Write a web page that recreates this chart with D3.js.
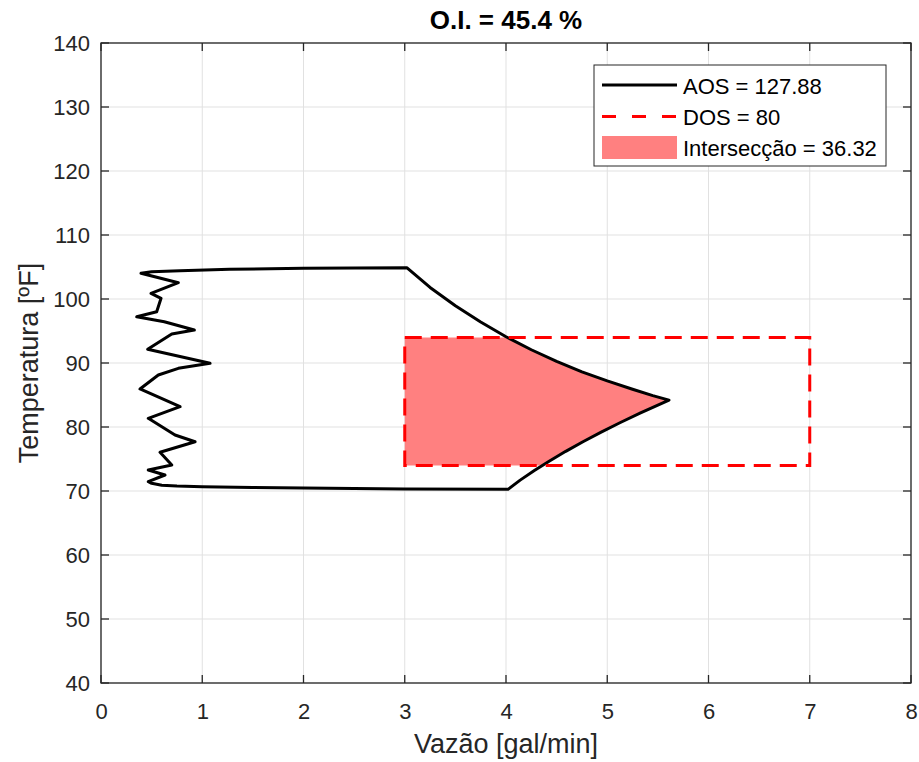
<!DOCTYPE html>
<html>
<head>
<meta charset="utf-8">
<script src="https://cdn.jsdelivr.net/npm/d3@7"></script>
<style>
  html, body { margin: 0; padding: 0; background: #fff; }
  svg { display: block; font-family: "Liberation Sans", Arial, sans-serif; }
</style>
</head>
<body>
<div id="chart"></div>
<script>
// ---------- DATA ----------
const title = "O.I. = 45.4 %";
const xLabel = "Vazão [gal/min]";
const yLabel = "Temperatura [ºF]";
const xTicks = [0, 1, 2, 3, 4, 5, 6, 7, 8];
const yTicks = [40, 50, 60, 70, 80, 90, 100, 110, 120, 130, 140];

// AOS polygon (achievable operating space) - traced boundary
const aosX = [3.02, 3.25, 3.5, 3.75, 4.0, 4.25, 4.5, 4.75, 5.0, 5.25, 5.45, 5.61,
              5.467, 5.329, 5.13, 4.94, 4.76, 4.59, 4.43, 4.28, 4.14, 4.02,
              3.0, 2.0, 1.5, 1.0, 0.75, 0.6, 0.5,
              0.467, 0.632, 0.467, 0.699, 0.583, 0.929, 0.731, 0.467, 0.781, 0.385,
              0.566, 0.764, 1.077, 0.461, 0.699, 0.922, 0.625, 0.353, 0.550, 0.593,
              0.494, 0.764, 0.395,
              0.5, 0.78, 1.27, 2.0, 3.02];
const aosY = [104.9, 101.8, 98.94, 96.4, 94.1, 92.07, 90.25, 88.6, 87.2, 85.9, 84.9, 84.2,
              83.2, 82.2, 80.7, 79.2, 77.7, 76.2, 74.7, 73.2, 71.7, 70.26,
              70.33, 70.46, 70.55, 70.67, 70.78, 70.9, 71.2,
              71.45, 72.5, 73.28, 74.06, 76.05, 77.70, 78.75, 81.36, 83.17, 85.94,
              88.13, 89.17, 89.95, 92.14, 94.53, 95.16, 96.45, 97.23, 98.02, 100.11,
              100.89, 102.55, 104.02,
              104.25, 104.42, 104.65, 104.8, 104.9];

// DOS rectangle (desired operating space)
const dosX = [3, 7];
const dosY = [74, 94];

const legendLabels = ["AOS = 127.88", "DOS = 80", "Intersecção = 36.32"];

// ---------- CHART ----------
const W = 919, H = 762;
const svg = d3.select("#chart").append("svg").attr("width", W).attr("height", H);

const x = d3.scaleLinear().domain([0, 8]).range([101, 911]);
const y = d3.scaleLinear().domain([40, 140]).range([683, 43]);

const axisColor = "#262626";
const gridColor = "#e1e1e1";
const FONT = "'Liberation Sans', Arial, sans-serif";

// grid
const grid = svg.append("g");
grid.selectAll("line.gx").data(xTicks).join("line")
  .attr("x1", d => x(d)).attr("x2", d => x(d))
  .attr("y1", y(40)).attr("y2", y(140))
  .attr("stroke", gridColor).attr("stroke-width", 1);
grid.selectAll("line.gy").data(yTicks).join("line")
  .attr("y1", d => y(d)).attr("y2", d => y(d))
  .attr("x1", x(0)).attr("x2", x(8))
  .attr("stroke", gridColor).attr("stroke-width", 1);

// clip for intersection
const defs = svg.append("defs");
defs.append("clipPath").attr("id", "dosClip").append("rect")
  .attr("x", x(dosX[0])).attr("y", y(dosY[1]))
  .attr("width", x(dosX[1]) - x(dosX[0]))
  .attr("height", y(dosY[0]) - y(dosY[1]));

const pts = aosX.map((v, i) => [x(v), y(aosY[i])]);
const line = d3.line().curve(d3.curveLinear);

// intersection fill
svg.append("path")
  .attr("d", line(pts) + "Z")
  .attr("fill", "#ff8080")
  .attr("stroke", "none")
  .attr("clip-path", "url(#dosClip)");

// AOS outline
svg.append("path")
  .attr("d", line(pts) + "Z")
  .attr("fill", "none")
  .attr("stroke", "#000")
  .attr("stroke-width", 3)
  .attr("stroke-linejoin", "round");

// DOS rectangle
svg.append("rect")
  .attr("x", x(dosX[0])).attr("y", y(dosY[1]))
  .attr("width", x(dosX[1]) - x(dosX[0]))
  .attr("height", y(dosY[0]) - y(dosY[1]))
  .attr("fill", "none")
  .attr("stroke", "#ff0000")
  .attr("stroke-width", 3)
  .attr("stroke-dasharray", "17,9");

// axes
const tickLen = 8;
const xAxisB = d3.axisBottom(x).tickValues(xTicks).tickSize(0).tickPadding(20);
const yAxisL = d3.axisLeft(y).tickValues(yTicks).tickSize(0).tickPadding(11);

const gx = svg.append("g").attr("transform", `translate(0,${y(40)})`).call(xAxisB);
gx.select(".domain").remove();
gx.selectAll("text").attr("fill", axisColor).style("font-size", "22px").style("font-family", FONT);

const gy = svg.append("g").attr("transform", `translate(${x(0)},0)`).call(yAxisL);
gy.select(".domain").remove();
gy.selectAll("text").attr("fill", axisColor).style("font-size", "22px").style("font-family", FONT);

// inward ticks on all sides
const tk = svg.append("g").attr("stroke", axisColor).attr("stroke-width", 1.3);
xTicks.forEach(d => {
  tk.append("line").attr("x1", x(d)).attr("x2", x(d)).attr("y1", y(40)).attr("y2", y(40) - tickLen);
  tk.append("line").attr("x1", x(d)).attr("x2", x(d)).attr("y1", y(140)).attr("y2", y(140) + tickLen);
});
yTicks.forEach(d => {
  tk.append("line").attr("y1", y(d)).attr("y2", y(d)).attr("x1", x(0)).attr("x2", x(0) + tickLen);
  tk.append("line").attr("y1", y(d)).attr("y2", y(d)).attr("x1", x(8)).attr("x2", x(8) - tickLen);
});

// box
svg.append("rect")
  .attr("x", x(0)).attr("y", y(140))
  .attr("width", x(8) - x(0)).attr("height", y(40) - y(140))
  .attr("fill", "none").attr("stroke", axisColor).attr("stroke-width", 1.3);

// labels
svg.append("text").attr("x", (x(0) + x(8)) / 2).attr("y", 753)
  .attr("text-anchor", "middle").attr("fill", axisColor)
  .style("font-size", "27px").text(xLabel);

svg.append("text")
  .attr("transform", `translate(38,${(y(40) + y(140)) / 2}) rotate(-90)`)
  .attr("text-anchor", "middle").attr("fill", axisColor)
  .style("font-size", "27px").text(yLabel);

svg.append("text").attr("x", (x(0) + x(8)) / 2).attr("y", 29)
  .attr("text-anchor", "middle").attr("fill", "#000")
  .style("font-size", "26px").style("font-weight", "bold").text(title);

// legend
const lg = svg.append("g");
lg.append("rect").attr("x", 594).attr("y", 65).attr("width", 292).attr("height", 101)
  .attr("fill", "#fff").attr("stroke", axisColor).attr("stroke-width", 1);
const rowY = [85, 116.5, 147.5];
lg.append("line").attr("x1", 602).attr("x2", 677).attr("y1", rowY[0]).attr("y2", rowY[0])
  .attr("stroke", "#000").attr("stroke-width", 3);
lg.append("line").attr("x1", 602).attr("x2", 677).attr("y1", rowY[1]).attr("y2", rowY[1])
  .attr("stroke", "#ff0000").attr("stroke-width", 3).attr("stroke-dasharray", "14,16");
lg.append("rect").attr("x", 602).attr("y", 136).attr("width", 75).attr("height", 23)
  .attr("fill", "#ff8080");
legendLabels.forEach((t, i) => {
  lg.append("text").attr("x", 683).attr("y", rowY[i] + 8.5)
    .attr("fill", "#000").style("font-size", "22px").text(t);
});
</script>
</body>
</html>
